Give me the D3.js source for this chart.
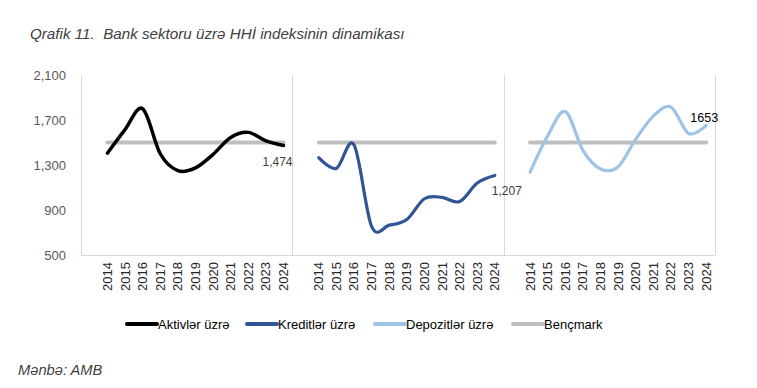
<!DOCTYPE html>
<html>
<head>
<meta charset="utf-8">
<script src="https://cdn.jsdelivr.net/npm/d3@7"></script>
<style>
  body { margin: 0; background: #fff; }
  svg { font-family: "Liberation Sans", Arial, sans-serif; }
</style>
</head>
<body>
<svg id="chart" width="757" height="388"></svg>
<script>
var width = 757;
var height = 388;

var years = ["2014","2015","2016","2017","2018","2019","2020","2021","2022","2023","2024"];

var aktivler   = [1405, 1615, 1800, 1400, 1250, 1275, 1395, 1545, 1590, 1515, 1474];
var kreditler  = [1365, 1270, 1480, 755, 765, 815, 1000, 1012, 975, 1140, 1207];
var depozitler = [1236, 1560, 1775, 1430, 1265, 1285, 1530, 1735, 1815, 1580, 1653];
var bencmark   = 1500;

var seriesNames  = ["Aktivlər üzrə", "Kreditlər üzrə", "Depozitlər üzrə", "Bençmark"];
var seriesColors = ["#000000", "#2F5597", "#9DC3E6", "#BFBFBF"];
var endLabels    = ["1,474", "1,207", "1653"];

var yTicks = [500, 900, 1300, 1700, 2100];

var panels = [aktivler, kreditler, depozitler];

// one gap slot in front of every panel, then 11 years
var slots = [];
panels.forEach(function(p, pi) {
    slots.push("gap" + pi);
    years.forEach(function(yr) { slots.push(pi + "-" + yr); });
});

var x = d3.scaleBand().domain(slots).range([81, 715]).padding(0);
var y = d3.scaleLinear().domain([500, 2100]).range([255, 75]);

var cx = function(pi, yr) { return x(pi + "-" + yr) + x.bandwidth() / 2; };

var svg = d3.select("#chart");

// title
svg.append("text")
    .attr("x", 30).attr("y", 39)
    .attr("font-size", 15.2)
    .attr("font-style", "italic")
    .attr("fill", "#404040")
    .attr("xml:space", "preserve")
    .text("Qrafik 11.  Bank sektoru üzrə HHİ indeksinin dinamikası");

// source
svg.append("text")
    .attr("x", 18).attr("y", 375)
    .attr("font-size", 14.7)
    .attr("font-style", "italic")
    .attr("fill", "#404040")
    .text("Mənbə: AMB");

// axes frame lines
var grid = svg.append("g").attr("stroke", "#D9D9D9").attr("stroke-width", 1);
grid.append("line")
    .attr("x1", 81).attr("x2", 715)
    .attr("y1", y(500) + 0.5).attr("y2", y(500) + 0.5);
[0, 1, 2, 3].forEach(function(i) {
    var xv = i < 3 ? x("gap" + i) : x.range()[1];
    grid.append("line")
        .attr("x1", Math.round(xv) + 0.5).attr("x2", Math.round(xv) + 0.5)
        .attr("y1", y(2100)).attr("y2", y(500));
});

// y axis labels
svg.append("g")
    .selectAll("text")
    .data(yTicks)
    .join("text")
    .attr("x", 66)
    .attr("y", d => y(d))
    .attr("dy", "0.35em")
    .attr("text-anchor", "end")
    .attr("font-size", 13)
    .attr("fill", "#595959")
    .text(d => d3.format(",")(d));

// x axis labels (rotated)
var xl = svg.append("g");
panels.forEach(function(p, pi) {
    xl.selectAll("text.p" + pi)
        .data(years)
        .join("text")
        .attr("class", "p" + pi)
        .attr("transform", d => "translate(" + (cx(pi, d) + 4.5) + ",262) rotate(-90)")
        .attr("text-anchor", "end")
        .attr("font-size", 13)
        .attr("fill", "#262626")
        .text(d => d);
});

var line = d3.line()
    .x(d => d.x)
    .y(d => y(d.v))
    .curve(d3.curveCardinal.tension(0));

// benchmark lines
panels.forEach(function(p, pi) {
    svg.append("line")
        .attr("x1", cx(pi, years[0])).attr("x2", cx(pi, years[years.length - 1]))
        .attr("y1", y(bencmark)).attr("y2", y(bencmark))
        .attr("stroke", seriesColors[3])
        .attr("stroke-width", 4)
        .attr("stroke-linecap", "round");
});

// series lines
panels.forEach(function(p, pi) {
    var pts = p.map((v, i) => ({ x: cx(pi, years[i]), v: v }));
    svg.append("path")
        .attr("d", line(pts))
        .attr("fill", "none")
        .attr("stroke", seriesColors[pi])
        .attr("stroke-width", pi == 0 ? 3.5 : 3.2)
        .attr("stroke-linecap", "round");
});

// end labels
var labOff = [[-6, 21], [12, 20], [-2, -3]];
panels.forEach(function(p, pi) {
    var last = years.length - 1;
    svg.append("text")
        .attr("x", cx(pi, years[last]) + labOff[pi][0])
        .attr("y", y(p[last]) + labOff[pi][1])
        .attr("text-anchor", "middle")
        .attr("font-size", pi == 2 ? 12.5 : 12)
        .attr("fill", pi == 2 ? "#000000" : "#404040")
        .text(endLabels[pi]);
});

// legend
var legX = [127, 247, 375, 513];
var leg = svg.append("g");
seriesNames.forEach(function(n, i) {
    leg.append("line")
        .attr("x1", legX[i]).attr("x2", legX[i] + 30)
        .attr("y1", 324).attr("y2", 324)
        .attr("stroke", seriesColors[i])
        .attr("stroke-width", 4)
        .attr("stroke-linecap", "round");
    leg.append("text")
        .attr("x", legX[i] + 31)
        .attr("y", 328.5)
        .attr("font-size", 13)
        .attr("fill", "#000")
        .text(n);
});
</script>
</body>
</html>
